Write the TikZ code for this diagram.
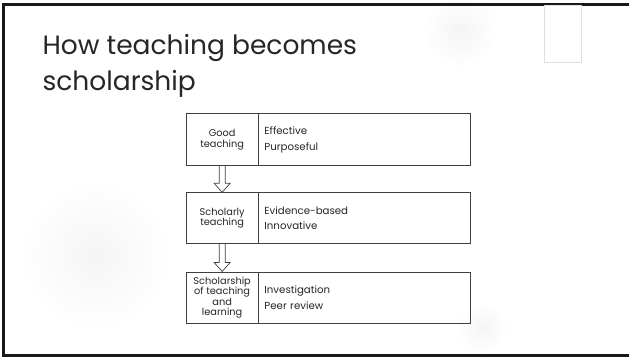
\documentclass[tikz,border=0pt]{standalone}
\usepackage{fontspec}
\setmainfont{Poppins}
\usetikzlibrary{calc}
\definecolor{boxline}{HTML}{404040}
\definecolor{txt}{HTML}{262626}
\begin{document}
\begin{tikzpicture}[x=1pt,y=-1pt,
  lbox/.style={draw=boxline, line width=0.8pt, minimum width=71.5pt, align=center, inner sep=1pt, font=\fontsize{9.8}{10.6}\selectfont, text=txt, anchor=north west},
  rbox/.style={draw=boxline, line width=0.8pt, minimum width=211.5pt, align=left, text width=200pt, inner xsep=4pt, font=\fontsize{10.2}{15.5}\selectfont, text=txt, anchor=north west},
  hollow/.style={draw=boxline, line width=0.7pt, fill=white, line join=miter},
  blob/.style={inner color=black!4, outer color=white},
  titletxt/.style={anchor=base west, font=\fontsize{26.5}{32}\selectfont, text=txt, inner sep=0pt}
]
\useasboundingbox (0,0) rectangle (629,358);
\fill[white] (0,0) rectangle (629,358);
% faint background blobs
\shade[blob] (460,30) circle (38);
\shade[blob] (95,255) circle (75);
\shade[blob] (482,328) circle (26);
% frame
\draw[line width=3pt, black!90] (640,5) -- (3,5) -- (3,355) -- (640,355);
% small tab top right
\fill[black!30] (544.5,6) rectangle (581.5,63.5);
\draw[black!12, fill=white] (544,5) rectangle (581,62);
% title
\node[titletxt] (title1) at (42.3,55) {How teaching becomes};
\node[titletxt] (title2) at (42.3,90.7) {scholarship};
% boxes
\node[lbox, minimum height=52pt] (g) at (186,113.3) {Good\\teaching};
\node[rbox, minimum height=52pt] (ge) at (g.north east) {Effective\\Purposeful};
\node[lbox, minimum height=51pt] (s) at (186,192.3) {Scholarly\\teaching};
\node[rbox, minimum height=51pt] (se) at (s.north east) {Evidence-based\\Innovative};
\node[lbox, minimum height=51.5pt] (l) at (186,271.5) {Scholarship\\of teaching\\and\\learning};
\node[rbox, minimum height=51.5pt] (le) at (l.north east) {Investigation\\Peer review};
% arrows
\draw[hollow] ($(g.south)+(-3,0)$) |- ($(s.north)+(-8,-9)$) -- (s.north) -- ($(s.north)+(8,-9)$) -| ($(g.south)+(3,0)$);
\draw[hollow] ($(s.south)+(-3,0)$) |- ($(l.north)+(-8,-9)$) -- (l.north) -- ($(l.north)+(8,-9)$) -| ($(s.south)+(3,0)$);
\end{tikzpicture}
\end{document}
